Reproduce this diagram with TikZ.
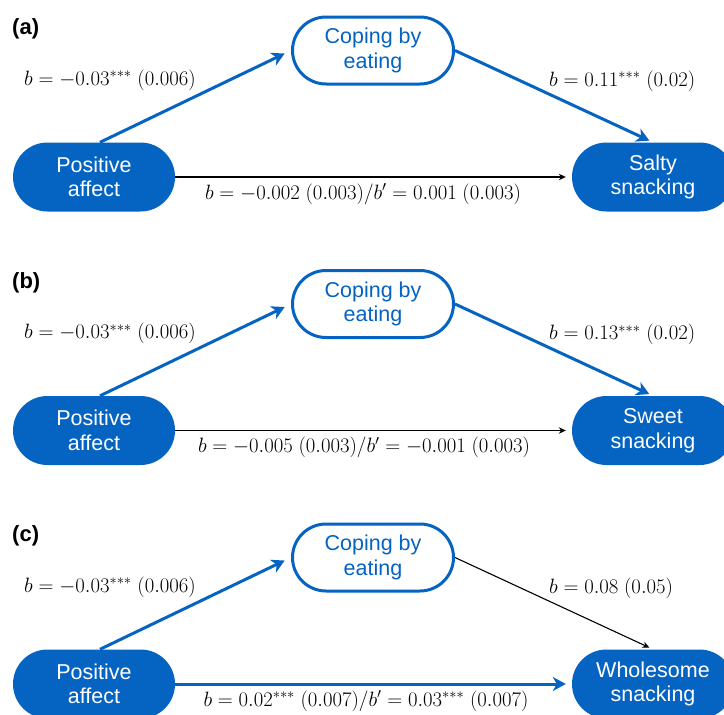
\documentclass[tikz,border=0pt]{standalone}
\usepackage{fontspec}
\setmainfont{Liberation Sans}
\usetikzlibrary{arrows.meta,shapes.misc}
\definecolor{mblue}{HTML}{0563C1}
\begin{document}
\begin{tikzpicture}[x=1pt,y=-1pt,
 var/.style={rounded rectangle, minimum width=162pt, minimum height=69pt, inner sep=0pt, align=center, font=\fontsize{21.5}{24.5}\selectfont},
 filled/.style={var, fill=mblue, text=white},
 hollow/.style={var, draw=mblue, line width=3pt, fill=white, text=mblue, minimum width=161pt, minimum height=67pt},
 bluearrow/.style={draw=mblue, line width=3pt, -{Stealth[length=13pt,width=14pt,inset=4pt]}},
 blackarrow/.style={draw=black, line width=1.1pt, -{Stealth[length=7pt,width=6.5pt]}},
 coef/.style={font=\fontsize{20.6}{24}\selectfont, inner sep=0pt},
 panel/.style={font=\fontsize{22}{26}\selectfont\bfseries, inner sep=0pt, anchor=west}]
\useasboundingbox (0,0) rectangle (724,715);

% ---------- panel (a)
\begin{scope}
\node[panel] (la) at (12,29) {(a)};
\node[filled] (pa1) at (94,177) {Positive\\affect};
\node[hollow] (ce1) at (373,50.5) {Coping by\\eating};
\node[filled] (sn1) at (653,177) {Salty\\snacking};
\draw[bluearrow, shorten >=7pt] ([xshift=6pt]pa1.north) -- (ce1.west);
\draw[bluearrow, shorten >=4pt] (ce1.east) -- (sn1.north);
\draw[blackarrow, shorten >=6pt] (pa1.east) -- (sn1.west);
\node[coef, anchor=west] (c1a) at (24,80) {$b=-0.03^{***}\ (0.006)$};
\node[coef, anchor=west] (c1b) at (549,81) {$b=0.11^{***}\ (0.02)$};
\node[coef] (c1c) at (363,194) {$b=-0.002\ (0.003)/b^{\prime}=0.001\ (0.003)$};
\end{scope}

% ---------- panel (b)
\begin{scope}[shift={(0,253.5)}]
\node[panel] (lb) at (12,29) {(b)};
\node[filled] (pa2) at (94,177) {Positive\\affect};
\node[hollow] (ce2) at (373,50.5) {Coping by\\eating};
\node[filled] (sn2) at (653,177) {Sweet\\snacking};
\draw[bluearrow, shorten >=7pt] ([xshift=6pt]pa2.north) -- (ce2.west);
\draw[bluearrow, shorten >=4pt] (ce2.east) -- (sn2.north);
\draw[blackarrow, shorten >=6pt] (pa2.east) -- (sn2.west);
\node[coef, anchor=west] (c2a) at (24,80) {$b=-0.03^{***}\ (0.006)$};
\node[coef, anchor=west] (c2b) at (549,81) {$b=0.13^{***}\ (0.02)$};
\node[coef] (c2c) at (364,194) {$b=-0.005\ (0.003)/b^{\prime}=-0.001\ (0.003)$};
\end{scope}

% ---------- panel (c)
\begin{scope}[shift={(0,507)}]
\node[panel] (lc) at (12,29) {(c)};
\node[filled] (pa3) at (94,177) {Positive\\affect};
\node[hollow] (ce3) at (373,50.5) {Coping by\\eating};
\node[filled] (sn3) at (653,177) {Wholesome\\snacking};
\draw[bluearrow, shorten >=7pt] ([xshift=6pt]pa3.north) -- (ce3.west);
\draw[blackarrow, shorten >=4pt] (ce3.east) -- (sn3.north);
\draw[bluearrow, shorten >=6pt] (pa3.east) -- (sn3.west);
\node[coef, anchor=west] (c3a) at (24,80) {$b=-0.03^{***}\ (0.006)$};
\node[coef, anchor=west] (c3b) at (549,81) {$b=0.08\ (0.05)$};
\node[coef] (c3c) at (366,194) {$b=0.02^{***}\ (0.007)/b^{\prime}=0.03^{***}\ (0.007)$};
\end{scope}
\end{tikzpicture}
\end{document}
